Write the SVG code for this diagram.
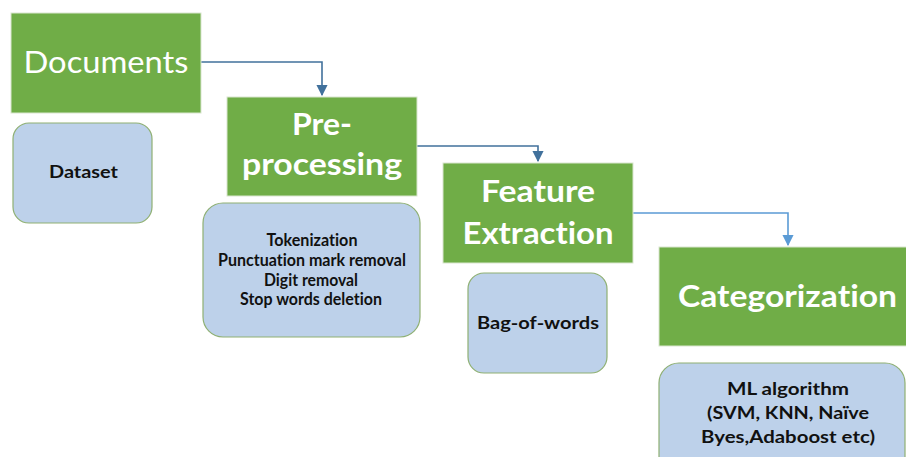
<svg xmlns="http://www.w3.org/2000/svg" width="906" height="457" viewBox="0 0 906 457">
  <defs>
    <marker id="arrDark" viewBox="0 0 10 10" refX="9" refY="5" markerWidth="7" markerHeight="7" orient="auto">
      <path d="M0,0 L10,5 L0,10 z" fill="#41719c"/>
    </marker>
    <marker id="arrLight" viewBox="0 0 10 10" refX="9" refY="5" markerWidth="7" markerHeight="7" orient="auto">
      <path d="M0,0 L10,5 L0,10 z" fill="#5b9bd5"/>
    </marker>
  </defs>
  <style>
    text { font-variant-ligatures: none; }
    .step { fill: #70ad47; stroke: #d9e6cf; stroke-width: 1; }
    .note { fill: #bdd1ea; stroke: #8fb073; stroke-width: 1.2; }
    .big { font-family: Lato, "Open Sans", sans-serif; fill: #ffffff; text-anchor: middle; }
    .small { font-family: Lato, "Open Sans", sans-serif; font-weight: bold; fill: #111111; text-anchor: middle; font-size: 16.5px; }
    .link { fill: none; stroke-width: 1.6; }
  </style>
  <rect width="906" height="457" fill="#ffffff"/>

  <g id="connectors">
    <path class="link" d="M201,62 H322 V95" stroke="#41719c" marker-end="url(#arrDark)"/>
    <path class="link" d="M417,146 H538 V161" stroke="#41719c" marker-end="url(#arrDark)"/>
    <path class="link" d="M633,213 H788 V245" stroke="#5b9bd5" marker-end="url(#arrLight)"/>
  </g>

  <g id="documents">
    <rect class="step" x="11" y="13" width="190" height="100"/>
    <text class="big" x="106" y="73" font-size="31" textLength="165" lengthAdjust="spacingAndGlyphs">Documents</text>
  </g>
  <g id="dataset">
    <rect class="note" x="13" y="123" width="139" height="100" rx="16"/>
    <text class="small" x="83.5" y="178" textLength="69" lengthAdjust="spacingAndGlyphs">Dataset</text>
  </g>

  <g id="preprocessing">
    <rect class="step" x="227" y="97" width="190" height="99"/>
    <text class="big" x="322" y="135" font-size="31" font-weight="bold" textLength="60" lengthAdjust="spacingAndGlyphs">Pre-</text>
    <text class="big" x="322" y="175" font-size="31" font-weight="bold" textLength="160" lengthAdjust="spacingAndGlyphs">processing</text>
  </g>
  <g id="preprocessing-steps">
    <rect class="note" x="203" y="203" width="217" height="134" rx="20"/>
    <text class="small" x="312" y="246" font-size="15" textLength="91" lengthAdjust="spacingAndGlyphs">Tokenization</text>
    <text class="small" x="312" y="266" font-size="15" textLength="188" lengthAdjust="spacingAndGlyphs">Punctuation mark removal</text>
    <text class="small" x="311" y="286" font-size="15" textLength="94" lengthAdjust="spacingAndGlyphs">Digit removal</text>
    <text class="small" x="311" y="305" font-size="15" textLength="142" lengthAdjust="spacingAndGlyphs">Stop words deletion</text>
  </g>

  <g id="feature-extraction">
    <rect class="step" x="443" y="163" width="190" height="100"/>
    <text class="big" x="538" y="202" font-size="31" font-weight="bold" textLength="114" lengthAdjust="spacingAndGlyphs">Feature</text>
    <text class="big" x="538" y="244" font-size="31" font-weight="bold" textLength="151" lengthAdjust="spacingAndGlyphs">Extraction</text>
  </g>
  <g id="bag-of-words">
    <rect class="note" x="468" y="273" width="139" height="100" rx="16"/>
    <text class="small" x="538" y="329" textLength="122" lengthAdjust="spacingAndGlyphs">Bag-of-words</text>
  </g>

  <g id="categorization">
    <rect class="step" x="659" y="247" width="250" height="99"/>
    <text class="big" x="787.5" y="307" font-size="31" font-weight="bold" textLength="219" lengthAdjust="spacingAndGlyphs">Categorization</text>
  </g>
  <g id="ml-algorithm">
    <rect class="note" x="659" y="363" width="246" height="120" rx="20"/>
    <text class="small" x="788" y="395" font-size="17.5" textLength="122" lengthAdjust="spacingAndGlyphs">ML algorithm</text>
    <text class="small" x="788" y="419" font-size="17.5" textLength="162" lengthAdjust="spacingAndGlyphs">(SVM, KNN, Naïve</text>
    <text class="small" x="788" y="443" font-size="17.5" textLength="174" lengthAdjust="spacingAndGlyphs">Byes,Adaboost etc)</text>
  </g>
</svg>
